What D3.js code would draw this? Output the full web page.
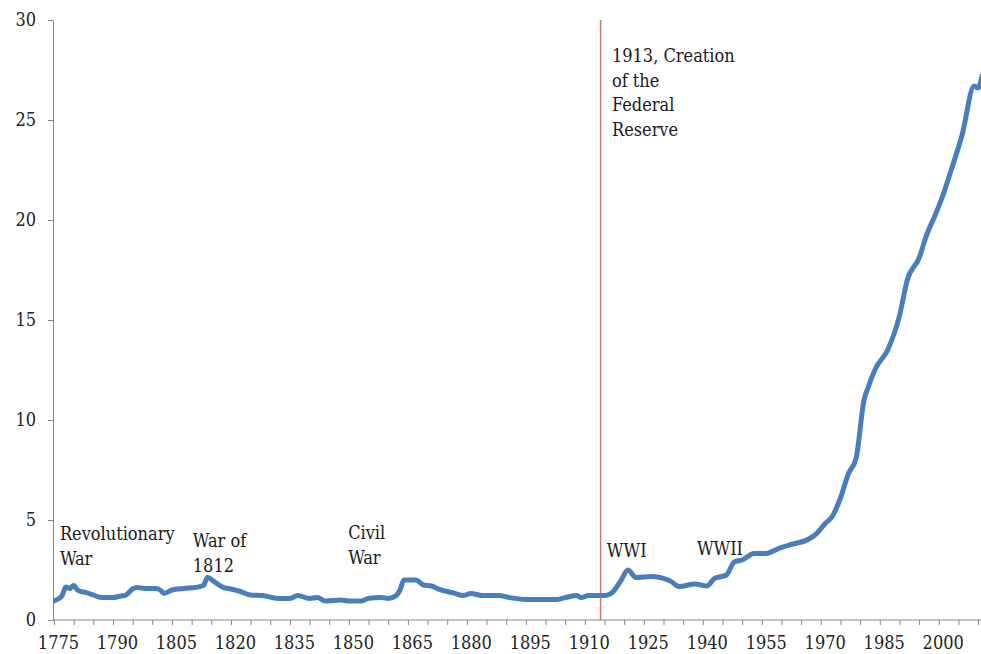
<!DOCTYPE html>
<html>
<head>
<meta charset="utf-8">
<script src="https://cdn.jsdelivr.net/npm/d3@7"></script>
<style>
  body { margin: 0; background: #fff; }
  svg { display: block; }
  svg text { font-family: "DejaVu Serif Condensed", "DejaVu Serif", serif; font-stretch: condensed; }
  .axis path, .axis line { stroke: #868686; }
  .axis text { fill: #222; font-size: 18px; }
  .note { fill: #1a1a1a; font-size: 18px; }
</style>
</head>
<body>
<svg id="chart" width="981" height="654"></svg>
<script>
// readings
const years = [1774, 1775, 1776, 1777, 1778, 1779, 1780, 1781, 1782, 1784, 1786, 1789, 1791, 1792, 1794, 1795, 1797, 1800, 1801, 1802, 1804, 1807, 1810, 1812, 1813, 1815, 1817, 1819, 1821, 1824, 1827, 1831, 1834, 1836, 1839, 1841, 1843, 1847, 1849, 1852, 1854, 1857, 1859, 1861, 1862, 1863, 1866, 1868, 1870, 1872, 1876, 1878, 1880, 1883, 1887, 1890, 1894, 1902, 1904, 1907, 1908, 1910, 1914, 1916, 1918, 1920, 1922, 1926, 1929, 1931, 1933, 1937, 1940, 1942, 1945, 1947, 1949, 1952, 1955, 1959, 1962, 1966, 1968, 1970, 1972, 1974, 1976, 1978, 1980, 1981, 1983, 1986, 1989, 1991, 1994, 1996, 1998, 2000, 2002, 2005, 2008, 2009, 2010]
const values = [0.95, 1.05, 1.2, 1.65, 1.58, 1.72, 1.5, 1.42, 1.38, 1.25, 1.12, 1.12, 1.2, 1.22, 1.55, 1.63, 1.58, 1.58, 1.5, 1.33, 1.5, 1.58, 1.63, 1.72, 2.12, 1.88, 1.63, 1.55, 1.45, 1.25, 1.22, 1.08, 1.08, 1.22, 1.08, 1.12, 0.95, 1.0, 0.95, 0.95, 1.08, 1.13, 1.08, 1.22, 1.5, 2.0, 2.0, 1.75, 1.7, 1.53, 1.33, 1.22, 1.33, 1.22, 1.22, 1.12, 1.03, 1.03, 1.12, 1.22, 1.12, 1.22, 1.22, 1.38, 1.92, 2.5, 2.12, 2.17, 2.08, 1.92, 1.67, 1.8, 1.7, 2.08, 2.25, 2.9, 3.0, 3.33, 3.33, 3.63, 3.8, 4.05, 4.33, 4.8, 5.2, 6.1, 7.3, 8.1, 11.0, 11.6, 12.6, 13.5, 15.2, 17.0, 18.1, 19.3, 20.2, 21.2, 22.4, 24.3, 26.7, 26.6, 27.2]

const labelYears = d3.range(1775, 2001, 15)
const minorYears = d3.range(1775, 2011, 5)
const yTicks = [0, 5, 10, 15, 20, 25, 30]

const fedYear = 1913

const notes = [
  { lines: ['Revolutionary', 'War'], year: 1775.5, value: 4.0 },
  { lines: ['War of', '1812'], year: 1809.3, value: 3.65 },
  { lines: ['Civil', 'War'], year: 1848.8, value: 4.05 },
  { lines: ['WWI'], year: 1914.6, value: 3.15 },
  { lines: ['WWII'], year: 1937.5, value: 3.25 },
  { lines: ['1913, Creation', 'of the', 'Federal', 'Reserve'], year: 1915.9, value: 27.9 }
]

const svg = d3.select('#chart')
const margin = { top: 20, right: 0, bottom: 34, left: 54 }
const width = +svg.attr('width')
const height = +svg.attr('height')

const x = d3.scaleLinear().domain([1774, 2010]).range([margin.left, width + 1])
const y = d3.scaleLinear().domain([0, 30]).range([height - margin.bottom, margin.top])

// tick marks sit on category boundaries, one year left of the label
const xTick = x.copy().domain([1775, 2011])

const clip = svg.append('clipPath').attr('id', 'plot')
clip.append('rect')
  .attr('x', margin.left - 1)
  .attr('y', 0)
  .attr('width', width)
  .attr('height', height)

// y axis
svg.append('g')
  .attr('class', 'axis')
  .attr('transform', `translate(${margin.left - 1},0)`)
  .call(d3.axisLeft(y).tickValues(yTicks).tickSize(5).tickPadding(12).tickSizeOuter(0))

// x axis: minor marks
svg.append('g')
  .attr('class', 'axis')
  .attr('transform', `translate(0,${y(0)})`)
  .call(d3.axisBottom(xTick).tickValues(minorYears).tickSize(5).tickFormat('').tickSizeOuter(0))
  .call((g) => g.select('.domain').attr('d', `M${margin.left - 1},0H${width}`))

// x axis: labels
svg.append('g')
  .attr('class', 'axis')
  .attr('transform', `translate(0,${y(0)})`)
  .call(d3.axisBottom(x).tickValues(labelYears).tickSize(0).tickPadding(16).tickFormat(d3.format('d')))
  .call((g) => g.select('.domain').remove())

svg.selectAll('.axis').attr('font-family', null)

// Federal Reserve marker
svg.append('line')
  .attr('x1', x(fedYear))
  .attr('x2', x(fedYear))
  .attr('y1', y(30))
  .attr('y2', y(0))
  .attr('stroke', '#c0504d')
  .attr('stroke-opacity', 0.8)
  .attr('stroke-width', 1.5)

const series = years.map((yr, i) => ({ year: yr, value: values[i] }))

const line = d3.line()
  .x((d) => x(d.year))
  .y((d) => y(d.value))
  .curve(d3.curveMonotoneX)

svg.append('path')
  .datum(series)
  .attr('clip-path', 'url(#plot)')
  .attr('fill', 'none')
  .attr('stroke', '#4a7ebb')
  .attr('stroke-width', 5)
  .attr('stroke-linejoin', 'round')
  .attr('stroke-linecap', 'round')
  .attr('d', line)

// annotations
const noteText = svg.selectAll('text.note')
  .data(notes)
  .enter()
  .append('text')
  .attr('class', 'note')
  .attr('x', (d) => x(d.year))
  .attr('y', (d) => y(d.value))

noteText.selectAll('tspan')
  .data((d) => d.lines.map((t) => ({ t, x: x(d.year) })))
  .enter()
  .append('tspan')
  .attr('x', (d) => d.x)
  .attr('dy', (d, i) => (i === 0 ? 0 : 24.5))
  .text((d) => d.t)
</script>
</body>
</html>
